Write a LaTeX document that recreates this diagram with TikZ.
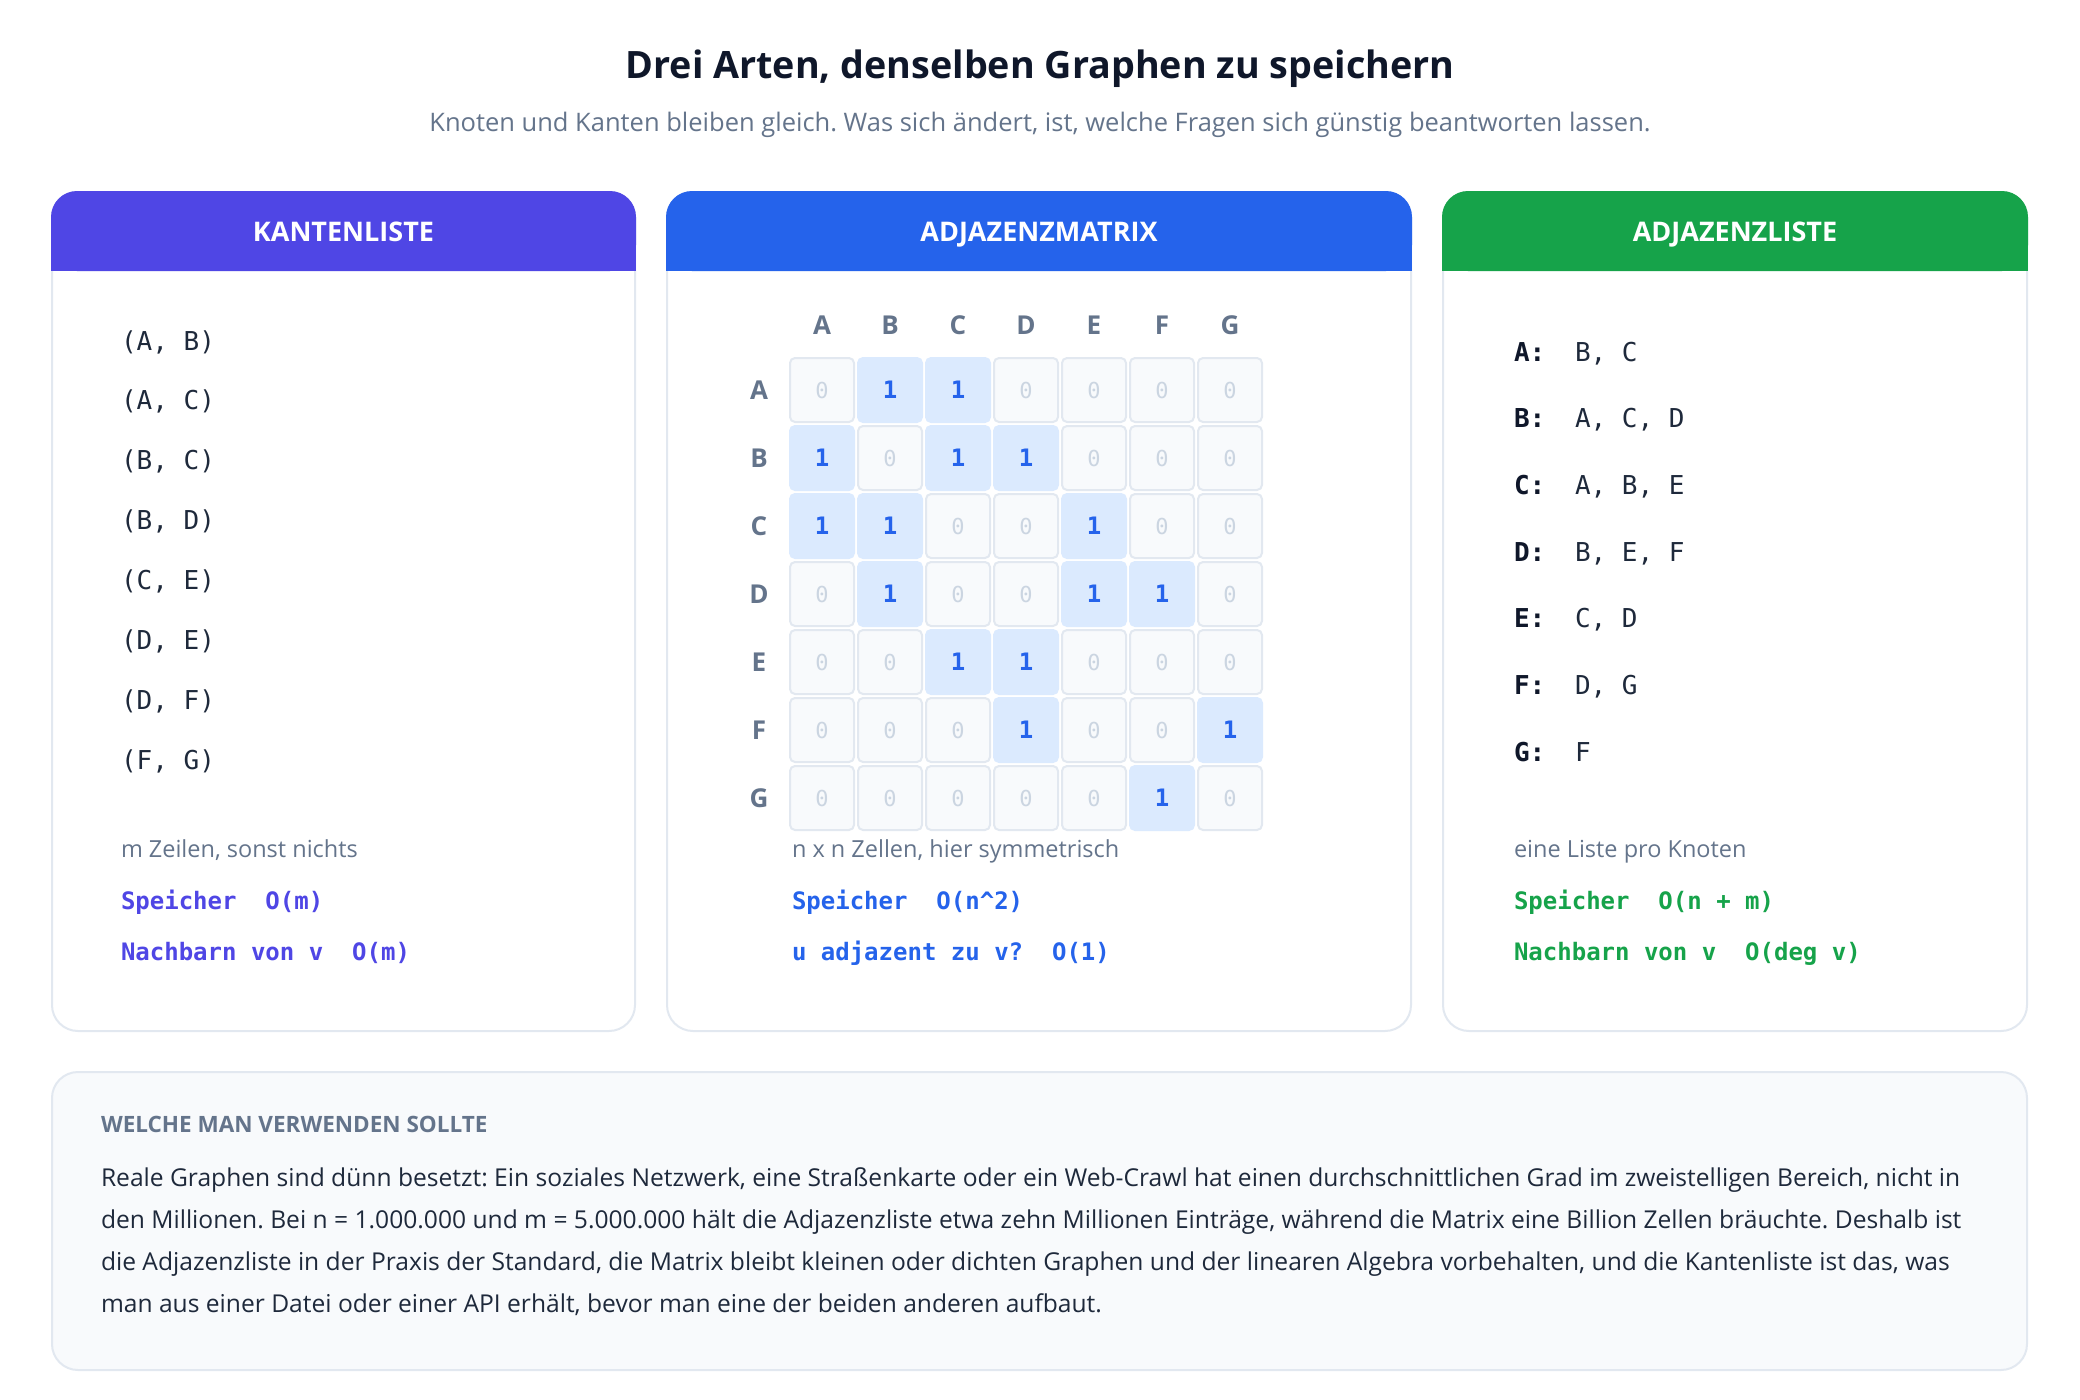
\documentclass[tikz,border=0pt]{standalone}
\usepackage{fontspec}
\setmainfont{Open Sans}
\newfontfamily\monof{DejaVu Sans Mono}
\frenchspacing
\definecolor{ink}{HTML}{0F172A}
\definecolor{body}{HTML}{1E293B}
\definecolor{muted}{HTML}{64748B}
\definecolor{bord}{HTML}{E2E8F0}
\definecolor{panel}{HTML}{F8FAFC}
\definecolor{indi}{HTML}{4F46E5}
\definecolor{blu}{HTML}{2563EB}
\definecolor{grn}{HTML}{16A34A}
\definecolor{onefill}{HTML}{DBEAFE}
\definecolor{zerotxt}{HTML}{CBD5E1}
\newcommand\setfs[1]{\fontsize{#1}{#1}\selectfont}
\begin{document}
\begin{tikzpicture}[x=1pt,y=-1pt,
  every node/.style={inner sep=0pt,outer sep=0pt},
  card/.style={fill=white,draw=bord,line width=2pt,rounded corners=26pt},
  hdrtxt/.style={anchor=base,text=white,font=\setfs{27}\bfseries},
  edge/.style={anchor=base west,text=body,font=\setfs{26}\monof},
  note/.style={anchor=base west,text=muted,font=\setfs{23.5}},
  cplx/.style={anchor=base west,font=\setfs{24}\monof\bfseries},
  mlab/.style={text=muted,font=\setfs{26}\bfseries},
  zcell/.style={minimum width=64pt,minimum height=64pt,rounded corners=5pt,fill=panel,draw=bord,line width=2pt,text=zerotxt,font=\setfs{22}\monof},
  ocell/.style={minimum width=64pt,minimum height=64pt,rounded corners=5pt,fill=onefill,draw=onefill,line width=2pt,text=blu,font=\setfs{24}\monof\bfseries},
  akey/.style={anchor=base west,text=ink,font=\setfs{26}\monof\bfseries},
  aval/.style={anchor=base west,text=body,font=\setfs{26}\monof},
  para/.style={anchor=base west,text=body,font=\setfs{24.6}}
]
\useasboundingbox[fill=white] (0,0) rectangle (2080,1400);

% title
\node[anchor=base,text=ink,font=\setfs{37.7}\bfseries] (title) at (1040,78) {Drei Arten, denselben Graphen zu speichern};
\node[anchor=base,text=muted,font=\setfs{25.5}] (sub) at (1040,131) {Knoten und Kanten bleiben gleich. Was sich ändert, ist, welche Fragen sich günstig beantworten lassen.};

% cards
\draw[card] (52,192) rectangle (635,1031);
\draw[card] (667,192) rectangle (1411,1031);
\draw[card] (1443,192) rectangle (2027,1031);

\fill[indi,rounded corners=26pt] (51,191) rectangle (636,271);
\fill[indi] (51,240) rectangle (636,271);
\fill[blu,rounded corners=26pt] (666,191) rectangle (1412,271);
\fill[blu] (666,240) rectangle (1412,271);
\fill[grn,rounded corners=26pt] (1442,191) rectangle (2028,271);
\fill[grn] (1442,240) rectangle (2028,271);

\node[hdrtxt] (h1) at (343.5,241.5) {KANTENLISTE};
\node[hdrtxt] (h2) at (1039,241.5) {ADJAZENZMATRIX};
\node[hdrtxt] (h3) at (1735,241.5) {ADJAZENZLISTE};

% edge list
\foreach \t [count=\i from 0] in {{(A, B)},{(A, C)},{(B, C)},{(B, D)},{(C, E)},{(D, E)},{(D, F)},{(F, G)}}
  \node[edge] (e\i) at (121,350+59.9*\i) {\t};
\node[note] (n1) at (121,857) {m Zeilen, sonst nichts};
\node[cplx,text=indi] (s1) at (121,909) {Speicher~~O(m)};
\node[cplx,text=indi] (q1) at (121,960) {Nachbarn von v~~O(m)};

% matrix
\foreach \L [count=\i from 0] in {A,B,C,D,E,F,G} {
  \node[mlab] (col\L) at (822+68*\i,325) {\L};
  \node[mlab] (row\L) at (759,390+68*\i) {\L};
}
\foreach \row [count=\r from 0] in {{0,1,1,0,0,0,0},{1,0,1,1,0,0,0},{1,1,0,0,1,0,0},{0,1,0,0,1,1,0},{0,0,1,1,0,0,0},{0,0,0,1,0,0,1},{0,0,0,0,0,1,0}} {
  \foreach \v [count=\c from 0] in \row {
    \ifnum\v=1
      \node[ocell] (m\r-\c) at (822+68*\c,390+68*\r) {1};
    \else
      \node[zcell] (m\r-\c) at (822+68*\c,390+68*\r) {0};
    \fi
  }
}
\node[note] (n2) at (792,857) {n x n Zellen, hier symmetrisch};
\node[cplx,text=blu] (s2) at (792,909) {Speicher~~O(n\textasciicircum 2)};
\node[cplx,text=blu] (q2) at (792,960) {u adjazent zu v?~~O(1)};

% adjacency list
\foreach \k/\v [count=\i from 0] in {A/{B, C},B/{A, C, D},C/{A, B, E},D/{B, E, F},E/{C, D},F/{D, G},G/F} {
  \node[akey] (k\k) at (1514,361+66.7*\i) {\k:};
  \node[aval] (v\k) at (1575,361+66.7*\i) {\v};
}
\node[note] (n3) at (1514,857) {eine Liste pro Knoten};
\node[cplx,text=grn] (s3) at (1514,909) {Speicher~~O(n + m)};
\node[cplx,text=grn] (q3) at (1514,960) {Nachbarn von v~~O(deg v)};

% bottom panel
\draw[fill=panel,draw=bord,line width=2pt,rounded corners=26pt] (52,1072) rectangle (2027,1370);
\node[anchor=base west,text=muted,font=\setfs{22.5}\bfseries] (wh) at (101,1132) {WELCHE MAN VERWENDEN SOLLTE};
\node[para] (p1) at (101,1186) {Reale Graphen sind dünn besetzt: Ein soziales Netzwerk, eine Straßenkarte oder ein Web-Crawl hat einen durchschnittlichen Grad im zweistelligen Bereich, nicht in};
\node[para] (p2) at (101,1228) {den Millionen. Bei n = 1.000.000 und m = 5.000.000 hält die Adjazenzliste etwa zehn Millionen Einträge, während die Matrix eine Billion Zellen bräuchte. Deshalb ist};
\node[para] (p3) at (101,1270) {die Adjazenzliste in der Praxis der Standard, die Matrix bleibt kleinen oder dichten Graphen und der linearen Algebra vorbehalten, und die Kantenliste ist das, was};
\node[para] (p4) at (101,1312) {man aus einer Datei oder einer API erhält, bevor man eine der beiden anderen aufbaut.};
\end{tikzpicture}
\end{document}
